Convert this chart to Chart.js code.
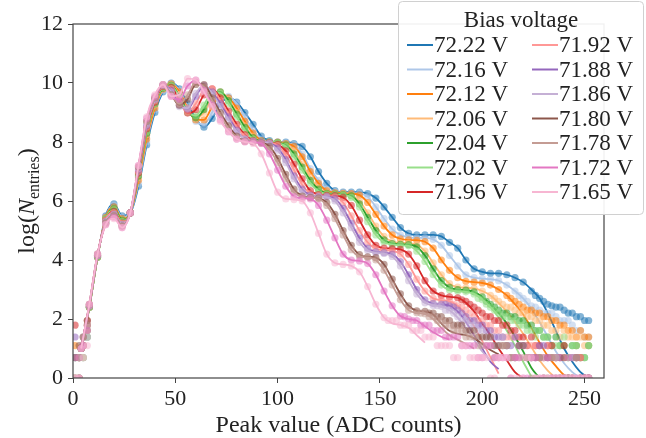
<!DOCTYPE html>
<html lang="en">
<head>
<meta charset="UTF-8">
<title>Peak value spectra vs bias voltage</title>
<script src="https://cdn.jsdelivr.net/npm/chart.js@4.4.1/dist/chart.umd.min.js"></script>
<style>
  html, body { margin: 0; padding: 0; background: #fff; }
  #chart { display: block; }
</style>
</head>
<body>
<canvas id="chart" width="646" height="438"></canvas>
<script>
// bias voltages (legend order)
const voltages = ["72.22 V", "72.16 V", "72.12 V", "72.06 V", "72.04 V", "72.02 V", "71.96 V",
                  "71.92 V", "71.88 V", "71.86 V", "71.80 V", "71.78 V", "71.72 V", "71.65 V"];

// fitted log(N) sampled every 4 ADC counts, starting at ADC 4
const firstAdc = 4;
const adcStep = 4;
const fit72_22 = [1.0,2.4,4.1,5.5,5.9,5.5,5.6,6.5,7.9,9.0,9.7,10.0,
  9.8,9.3,8.8,8.5,8.8,9.3,9.5,9.35,9.0,8.6,8.2,8.05,
  8.0,8.0,7.95,7.85,7.5,7.0,6.6,6.35,6.3,6.3,6.3,6.25,
  6.1,5.8,5.45,5.1,4.9,4.85,4.85,4.85,4.8,4.6,4.4,4.0,
  3.7,3.6,3.55,3.55,3.5,3.4,3.25,3.0,2.7,2.2,1.6,1.0,
  0.55,0.2,0.0];
const fit72_16 = [1.0,2.4,4.1,5.45,5.85,5.45,5.6,6.6,8.0,9.1,9.75,9.99,
  9.75,9.2,8.7,8.6,9.0,9.45,9.55,9.3,8.85,8.4,8.1,8.0,
  8.0,7.97,7.9,7.6,7.1,6.7,6.4,6.3,6.28,6.27,6.25,6.15,
  5.8,5.4,5.05,4.85,4.77,4.75,4.75,4.7,4.5,4.15,3.8,3.5,
  3.4,3.37,3.35,3.3,3.15,2.95,2.7,2.35,1.9,1.4,0.9,0.5,
  0.2,0.0];
const fit72_12 = [1.0,2.4,4.1,5.45,5.8,5.4,5.6,6.7,8.1,9.15,9.8,9.97,
  9.7,9.15,8.75,8.75,9.2,9.6,9.5,9.15,8.7,8.3,8.05,8.0,
  8.0,7.95,7.85,7.5,7.0,6.6,6.35,6.28,6.26,6.25,6.2,5.95,
  5.55,5.15,4.85,4.72,4.68,4.67,4.62,4.4,4.0,3.65,3.4,3.28,
  3.25,3.22,3.15,3.0,2.8,2.5,2.15,1.7,1.2,0.75,0.4,0.1,
  0.0];
const fit72_06 = [1.0,2.4,4.1,5.4,5.75,5.35,5.6,6.8,8.25,9.25,9.8,9.95,
  9.6,9.1,8.8,9.0,9.5,9.7,9.45,9.0,8.55,8.2,8.02,8.0,
  7.98,7.92,7.7,7.25,6.8,6.45,6.28,6.24,6.23,6.2,6.0,5.6,
  5.15,4.8,4.62,4.58,4.57,4.52,4.3,3.9,3.5,3.2,3.08,3.06,
  3.04,2.95,2.8,2.55,2.25,1.9,1.5,1.05,0.6,0.25,0.0];
const fit72_04 = [1.0,2.4,4.1,5.4,5.75,5.35,5.6,6.85,8.3,9.3,9.82,9.93,
  9.55,9.05,8.82,9.1,9.6,9.7,9.4,8.95,8.5,8.15,8.02,8.0,
  7.98,7.9,7.6,7.15,6.7,6.4,6.26,6.23,6.22,6.18,5.9,5.45,
  5.0,4.68,4.56,4.53,4.52,4.45,4.15,3.7,3.3,3.07,3.0,2.98,
  2.92,2.75,2.5,2.2,1.85,1.4,0.9,0.35,0.0];
const fit72_02 = [1.0,2.4,4.1,5.4,5.7,5.3,5.6,6.9,8.35,9.3,9.85,9.9,
  9.5,9.0,8.9,9.25,9.7,9.65,9.3,8.85,8.4,8.1,8.0,8.0,
  7.97,7.85,7.5,7.05,6.6,6.33,6.23,6.21,6.2,6.12,5.8,5.3,
  4.85,4.6,4.52,4.5,4.48,4.3,3.95,3.5,3.15,2.98,2.94,2.92,
  2.85,2.65,2.4,2.05,1.6,1.1,0.55,0.05];
const fit71_96 = [1.0,2.45,4.15,5.35,5.65,5.25,5.6,6.95,8.45,9.35,9.88,9.85,
  9.4,8.98,9.1,9.6,9.8,9.5,9.05,8.6,8.25,8.05,8.0,7.98,
  7.92,7.7,7.25,6.75,6.35,6.22,6.19,6.18,6.12,5.85,5.35,4.85,
  4.5,4.4,4.39,4.36,4.2,3.8,3.3,2.95,2.8,2.75,2.72,2.55,
  2.25,1.85,1.45,1.0,0.6,0.2,0.0];
const fit71_92 = [1.0,2.45,4.15,5.35,5.6,5.25,5.6,7.0,8.5,9.4,9.9,9.8,
  9.3,9.03,9.3,9.75,9.8,9.4,8.95,8.5,8.2,8.03,8.0,7.97,
  7.88,7.55,7.05,6.55,6.25,6.18,6.17,6.14,5.95,5.5,5.0,4.6,
  4.38,4.33,4.31,4.2,3.85,3.35,2.95,2.7,2.64,2.6,2.45,2.15,
  1.75,1.25,0.7,0.15];
const fit71_88 = [1.0,2.45,4.15,5.3,5.55,5.2,5.6,7.05,8.55,9.45,9.92,9.75,
  9.25,9.12,9.55,9.9,9.7,9.3,8.85,8.4,8.1,8.02,8.0,7.96,
  7.8,7.4,6.85,6.4,6.2,6.16,6.15,6.08,5.75,5.25,4.75,4.4,
  4.28,4.25,4.2,3.95,3.5,3.0,2.65,2.53,2.5,2.45,2.25,1.9,
  1.45,1.0,0.55,0.3];
const fit71_86 = [1.0,2.45,4.15,5.3,5.55,5.2,5.6,7.1,8.6,9.45,9.93,9.7,
  9.2,9.15,9.65,9.93,9.65,9.2,8.75,8.35,8.1,8.02,8.0,7.95,
  7.72,7.3,6.75,6.32,6.17,6.15,6.13,6.0,5.6,5.1,4.6,4.32,
  4.24,4.22,4.12,3.8,3.3,2.85,2.55,2.46,2.43,2.3,2.05,1.7,
  1.3,0.9,0.6];
const fit71_80 = [1.0,2.5,4.2,5.25,5.5,5.15,5.6,7.15,8.7,9.5,9.94,9.6,
  9.25,9.45,9.95,9.95,9.5,9.0,8.55,8.2,8.03,8.0,7.98,7.85,
  7.45,6.9,6.4,6.17,6.12,6.1,5.95,5.55,5.0,4.5,4.18,4.11,
  4.08,3.85,3.35,2.85,2.45,2.28,2.26,2.15,1.85,1.6,1.5,1.45,
  1.35,1.15,0.95,0.8];
const fit71_78 = [1.0,2.5,4.2,5.25,5.5,5.15,5.6,7.15,8.7,9.5,9.95,9.6,
  9.3,9.6,10.02,9.85,9.4,8.9,8.45,8.15,8.02,8.0,7.97,7.75,
  7.3,6.75,6.3,6.14,6.11,6.08,5.85,5.4,4.85,4.35,4.12,4.08,
  4.0,3.65,3.15,2.65,2.3,2.21,2.18,2.0,1.7,1.45,1.3,1.15,
  1.0];
const fit71_72 = [1.0,2.5,4.2,5.2,5.45,5.1,5.6,7.2,8.8,9.55,9.95,9.55,
  9.45,9.9,10.1,9.75,9.25,8.75,8.35,8.1,8.01,8.0,7.95,7.6,
  7.05,6.5,6.15,6.09,6.07,5.85,5.35,4.75,4.2,4.0,3.97,3.88,
  3.5,2.95,2.45,2.1,2.0,1.95,1.75,1.55,1.4,1.3];
const fit71_65 = [1.0,2.5,4.2,5.2,5.4,5.1,5.6,7.2,8.85,9.6,9.95,9.55,
  9.6,10.15,10.1,9.7,9.2,8.7,8.35,8.1,8.0,7.95,7.6,6.95,
  6.3,6.07,6.05,6.0,5.6,4.9,4.2,3.9,3.85,3.8,3.6,3.1,
  2.5,2.05,1.85,1.8,1.7,1.45,1.2];

// measured log(N) in the low-count tail: every 4 ADC from tailFrom up to 252,
// and the in-between counts (tailFrom + 2, step 4, up to 250)
const tailFrom = [224, 216, 212, 204, 200, 196, 188, 184, 180, 176, 172, 168, 160, 152];
const tail72_22 = [2.95,2.7,2.5,2.4,2.3,2.2,2.08,1.95];
const tail72_16 = [2.95,2.7,2.45,2.3,2.2,2.08,1.95,1.79,1.61,1.39];
const tail72_12 = [2.8,2.6,2.4,2.3,2.2,2.08,1.95,1.79,1.61,1.61,1.39];
const tail72_06 = [2.8,2.6,2.4,2.3,2.2,2.08,1.95,1.79,1.61,1.61,1.39,1.39,1.1];
const tail72_04 = [2.75,2.5,2.3,2.2,2.08,1.95,1.79,1.61,1.39,1.39,1.1,1.1,0.69,1.1];
const tail72_02 = [2.85,2.65,2.4,2.2,2.08,1.95,1.79,1.61,1.61,1.39,1.1,1.39,1.1,0.69,1.1];
const tail71_96 = [2.72,2.6,2.4,2.2,2.08,1.95,1.79,1.61,1.39,1.39,1.1,1.1,0.69,1.1,0.69,0.69,0];
const tail71_92 = [2.6,2.45,2.3,2.08,1.95,1.79,1.61,1.39,1.39,1.1,1.1,0.69,1.1,0.69,0.69,0,0.69,0];
const tail71_88 = [2.5,2.45,2.3,2.08,1.95,1.79,1.61,1.39,1.1,1.39,1.1,0.69,1.1,0.69,0.69,0,0.69,0,0];
const tail71_86 = [2.46,2.43,2.3,2.08,1.95,1.79,1.61,1.39,1.1,1.1,0.69,1.1,0.69,0.69,0,0.69,0,0.69,0,0];
const tail71_80 = [2.26,2.2,2.08,1.95,1.79,1.61,1.61,1.39,1.39,1.1,1.1,0.69,1.1,0.69,0.69,0.69,0,0.69,0,0,0];
const tail71_78 = [2.21,2.18,2.08,1.95,1.79,1.61,1.39,1.39,1.1,1.1,0.69,1.1,0.69,0.69,0,0.69,0,0.69,0,0,0,0];
const tail71_72 = [2.1,2.0,1.95,1.79,1.61,1.61,1.39,1.39,1.1,1.1,0.69,1.1,0.69,0.69,0.69,0,0.69,0,0.69,0,0,0,0,0];
const tail71_65 = [2.05,1.95,1.79,1.79,1.61,1.39,1.39,1.1,1.1,0.69,1.1,0.69,0.69,0,0.69,0.69,0,0,0.69,0,0,0,0,0,0,0];

const mid72_22 = [2.8,2.6,2.45,2.4,2.2,2.08,1.95];
const mid72_16 = [2.8,2.6,2.4,2.2,2.2,1.95,1.95,1.61,1.39];
const mid72_12 = [2.7,2.5,2.3,2.2,2.08,1.95,1.79,1.61,1.39,1.39];
const mid72_06 = [2.7,2.5,2.4,2.2,2.08,1.95,1.79,1.61,1.39,1.39,1.1,1.1];
const mid72_04 = [2.6,2.4,2.2,2.08,1.95,1.79,1.61,1.39,1.1,1.1,0.69,1.1,0.69];
const mid72_02 = [2.7,2.5,2.3,2.08,1.95,1.79,1.61,1.39,1.39,1.1,1.1,0.69,1.1,0.69];
const mid71_96 = [2.65,2.5,2.3,2.08,1.95,1.79,1.61,1.39,1.1,1.1,0.69,1.1,0.69,0,0.69,0];
const mid71_92 = [2.5,2.4,2.2,1.95,1.79,1.61,1.39,1.39,1.1,0.69,1.1,0.69,0.69,0.69,0,0.69,0];
const mid71_88 = [2.5,2.4,2.2,1.95,1.79,1.61,1.39,1.39,1.1,1.1,0.69,0.69,1.1,0,0.69,0,0.69,0];
const mid71_86 = [2.45,2.3,2.2,1.95,1.79,1.61,1.39,1.1,1.39,0.69,1.1,0.69,0,0.69,0.69,0,0,0.69,0];
const mid71_80 = [2.2,2.08,1.95,1.79,1.79,1.61,1.39,1.39,1.1,1.1,0.69,1.1,0.69,0.69,0,0.69,0,0,0.69,0];
const mid71_78 = [2.2,2.08,1.95,1.79,1.61,1.61,1.39,1.1,1.1,0.69,1.1,0.69,0.69,0.69,0,0,0.69,0,0,0.69,0];
const mid71_72 = [2.08,1.95,1.79,1.79,1.61,1.39,1.39,1.1,1.1,0.69,1.1,0.69,0.69,0,0.69,0,0.69,0,0,0,0.69,0,0];
const mid71_65 = [1.95,1.95,1.79,1.61,1.61,1.39,1.1,1.1,0.69,1.1,0.69,0.69,0.69,0,0.69,0,0,0.69,0,0,0,0,0,0,0];

// the first few counts (ADC 1, 3, 5, 7)
const headAdc = [1, 3, 5, 7];
const heads = [[0.69,0,0.69,1.39], [0,0.69,1.1,1.61], [1.1,0.69,1.1,1.79], [0,0,0.69,1.39],
               [0.69,0,1.1,1.61], [0,0.69,0.69,1.39], [1.79,0.69,1.1,1.95], [0,0,1.1,1.61],
               [1.39,0.69,1.39,1.79], [0,0.69,1.1,1.39], [0.69,1.1,1.39,1.95], [0,0.69,1.39,1.79],
               [0.69,0,1.1,1.61], [0,0,0.69,1.1]];

const fits = [fit72_22, fit72_16, fit72_12, fit72_06, fit72_04, fit72_02, fit71_96,
              fit71_92, fit71_88, fit71_86, fit71_80, fit71_78, fit71_72, fit71_65];
const tails = [tail72_22, tail72_16, tail72_12, tail72_06, tail72_04, tail72_02, tail71_96,
               tail71_92, tail71_88, tail71_86, tail71_80, tail71_78, tail71_72, tail71_65];
const mids = [mid72_22, mid72_16, mid72_12, mid72_06, mid72_04, mid72_02, mid71_96,
              mid71_92, mid71_88, mid71_86, mid71_80, mid71_78, mid71_72, mid71_65];

// tab20
const colors = ["#1f77b4", "#aec7e8", "#ff7f0e", "#ffbb78", "#2ca02c", "#98df8a", "#d62728",
                "#ff9896", "#9467bd", "#c5b0d5", "#8c564b", "#c49c94", "#e377c2", "#f7b6d2"];

function alpha(hex, a) {
  const n = parseInt(hex.slice(1), 16);
  return `rgba(${n >> 16},${(n >> 8) & 255},${n & 255},${a})`;
}

const SERIF = '"Liberation Serif", "DejaVu Serif", serif';
const TEXT = '#222';

let datasets = [];
fits.forEach((fit, i) => {
  const fitPts = fit.map((y, j) => ({ x: firstAdc + j * adcStep, y: y }));
  const dotPts = heads[i].map((y, j) => ({ x: headAdc[j], y: y }))
    .concat(fitPts.filter(p => p.x < tailFrom[i]))
    .concat(tails[i].map((y, j) => ({ x: tailFrom[i] + j * adcStep, y: y })))
    .concat(mids[i].map((y, j) => ({ x: tailFrom[i] + 2 + j * adcStep, y: y })));
  datasets.push({
    label: voltages[i] + " data",
    data: dotPts,
    showLine: false,
    pointRadius: 3.6,
    pointBorderWidth: 0,
    pointBackgroundColor: alpha(colors[i], 0.55),
    clip: 0
  });
  datasets.push({
    label: voltages[i],
    data: fitPts,
    showLine: true,
    pointRadius: 0,
    borderColor: colors[i],
    borderWidth: 1.8,
    cubicInterpolationMode: 'monotone',
    clip: 0
  });
});
// chart.js paints index 0 last; later series should end up on top
datasets.reverse();

const decorations = {
  id: 'decorations',
  afterDatasetsDraw(chart) {
    const { ctx, chartArea: a } = chart;
    ctx.save();
    ctx.strokeStyle = '#444';
    ctx.lineWidth = 1.2;
    ctx.strokeRect(a.left, a.top, a.right - a.left, a.bottom - a.top);
    ctx.restore();
  },
  afterDraw(chart) {
    const { ctx, chartArea: a } = chart;
    ctx.save();
    ctx.fillStyle = TEXT;

    // x title
    ctx.font = '24px ' + SERIF;
    ctx.textAlign = 'center';
    ctx.textBaseline = 'middle';
    ctx.fillText('Peak value (ADC counts)', (a.left + a.right) / 2, 426);

    // y title: log(N_entries)
    ctx.save();
    ctx.translate(26, (a.top + a.bottom) / 2);
    ctx.rotate(-Math.PI / 2);
    const parts = [
      { t: 'log(', f: '24px ' + SERIF, dy: 0 },
      { t: 'N', f: 'italic 24px ' + SERIF, dy: 0 },
      { t: 'entries', f: '16px ' + SERIF, dy: 5 },
      { t: ')', f: '24px ' + SERIF, dy: 0 }
    ];
    let w = 0;
    parts.forEach(p => { ctx.font = p.f; w += ctx.measureText(p.t).width; });
    let x = -w / 2;
    ctx.textAlign = 'left';
    ctx.textBaseline = 'alphabetic';
    parts.forEach(p => {
      ctx.font = p.f;
      ctx.fillText(p.t, x, 8 + p.dy);
      x += ctx.measureText(p.t).width;
    });
    ctx.restore();

    // legend
    const bx = 398, by = 1, bw = 246, bh = 214;
    ctx.beginPath();
    ctx.roundRect(bx + 0.5, by + 0.5, bw - 1, bh - 1, 4);
    ctx.fillStyle = 'rgba(255,255,255,0.92)';
    ctx.fill();
    ctx.strokeStyle = '#d0d0d0';
    ctx.lineWidth = 1;
    ctx.stroke();

    ctx.fillStyle = TEXT;
    ctx.font = '23px ' + SERIF;
    ctx.textAlign = 'center';
    ctx.textBaseline = 'middle';
    ctx.fillText('Bias voltage', bx + bw / 2, 21);

    ctx.textAlign = 'left';
    voltages.forEach((v, i) => {
      const col = i < 7 ? 0 : 1;
      const row = i % 7;
      const y = 45 + row * 24.5;
      const lx = col ? 532 : 407;
      ctx.strokeStyle = colors[i];
      ctx.lineWidth = 2;
      ctx.beginPath();
      ctx.moveTo(lx, y);
      ctx.lineTo(lx + 26, y);
      ctx.stroke();
      ctx.fillStyle = TEXT;
      ctx.font = '23px ' + SERIF;
      ctx.fillText(v, lx + 27, y + 1);
    });
    ctx.restore();
  }
};

new Chart(document.getElementById('chart'), {
  type: 'scatter',
  data: { datasets: datasets },
  options: {
    responsive: false,
    animation: false,
    devicePixelRatio: 1,
    layout: { padding: { top: 24, right: 42, left: 0, bottom: 0 } },
    plugins: { legend: { display: false }, tooltip: { enabled: false } },
    scales: {
      x: {
        type: 'linear',
        min: 0,
        max: 259.5,
        afterFit: s => { s.height = 60; },
        ticks: { stepSize: 50, includeBounds: false, maxRotation: 0, padding: 3,
                 color: TEXT, font: { family: SERIF, size: 22 } },
        grid: { drawOnChartArea: false, tickLength: 5, color: '#444', tickColor: '#444' },
        border: { display: false }
      },
      y: {
        type: 'linear',
        min: 0,
        max: 12,
        afterFit: s => { s.width = 73; },
        ticks: { stepSize: 2, includeBounds: false, padding: 5,
                 color: TEXT, font: { family: SERIF, size: 22 } },
        grid: { drawOnChartArea: false, tickLength: 5, color: '#444', tickColor: '#444' },
        border: { display: false }
      }
    }
  },
  plugins: [decorations]
});
</script>
</body>
</html>
